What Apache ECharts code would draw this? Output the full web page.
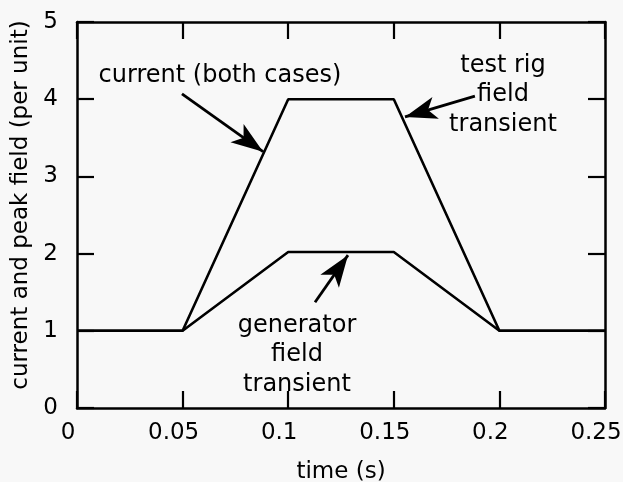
<!DOCTYPE html>
<html>
<head>
<meta charset="utf-8">
<script src="https://cdn.jsdelivr.net/npm/echarts@6/dist/echarts.min.js"></script>
<style>
  html, body { margin: 0; padding: 0; background: #f8f8f8; }
  #chart { width: 623px; height: 482px; }
</style>
</head>
<body>
<div id="chart"></div>
<script>
var times = [0, 0.05, 0.1, 0.15, 0.2, 0.25];
var current = [1, 1, 4, 4, 1, 1];
var generator = [1, 1, 2.02, 2.02, 1, 1];
var xTicks = [0, 0.05, 0.1, 0.15, 0.2, 0.25];
var yTicks = [0, 1, 2, 3, 4, 5];

// annotation arrows, [tail, head] in data units
var arrowCurrent = [[0.0497, 4.07], [0.0881, 3.32]];
var arrowTestRig = [[0.1884, 4.04], [0.1553, 3.77]];
var arrowGenerator = [[0.1127, 1.37], [0.1283, 1.98]];

var font = 'DejaVu Sans';
var chart = echarts.init(document.getElementById('chart'), null, { renderer: 'canvas' });

function pairs(xs, ys) {
    return xs.map(function (x, i) { return [x, ys[i]]; });
}

function arrow(a) {
    return [
        { coord: a[0], symbol: 'none' },
        { coord: a[1], symbol: 'arrow' }
    ];
}

var axisLine = { show: true, onZero: false, lineStyle: { color: '#000', width: 2.5 } };
var tick = { show: true, inside: true, length: 17, lineStyle: { color: '#000', width: 2.2 } };

var option = {
    backgroundColor: '#f8f8f8',
    animation: false,
    grid: { left: 77, right: 18, top: 22, bottom: 74, containLabel: false, outerBoundsMode: 'none' },
    xAxis: [
        {
            type: 'value', min: xTicks[0], max: xTicks[xTicks.length - 1], interval: 0.05,
            position: 'bottom',
            name: 'time (s)', nameLocation: 'middle', nameGap: 53,
            nameTextStyle: { fontFamily: font, fontSize: 23, color: '#000' },
            axisLine: axisLine, axisTick: tick, splitLine: { show: false },
            axisLabel: {
                margin: 14, fontFamily: font, fontSize: 23, color: '#000',
                padding: [0, 18, 0, 0],
                formatter: function (v) { return String(+v.toFixed(2)); }
            }
        },
        {
            type: 'value', min: xTicks[0], max: xTicks[xTicks.length - 1], interval: 0.05,
            position: 'top',
            axisLine: axisLine, axisTick: tick, splitLine: { show: false },
            axisLabel: { show: false }
        }
    ],
    yAxis: [
        {
            type: 'value', min: yTicks[0], max: yTicks[yTicks.length - 1], interval: 1,
            position: 'left',
            name: 'current and peak field (per unit)', nameLocation: 'middle', nameGap: 44,
            nameTextStyle: { fontFamily: font, fontSize: 23, color: '#000', padding: [0, 0, 0, 20] },
            axisLine: axisLine, axisTick: tick, splitLine: { show: false },
            axisLabel: { margin: 19, fontFamily: font, fontSize: 23, color: '#000' }
        },
        {
            type: 'value', min: yTicks[0], max: yTicks[yTicks.length - 1], interval: 1,
            position: 'right',
            axisLine: axisLine, axisTick: tick, splitLine: { show: false },
            axisLabel: { show: false }
        }
    ],
    series: [
        {
            name: 'current',
            type: 'line',
            data: pairs(times, current),
            symbol: 'none',
            lineStyle: { color: '#000', width: 2.6 },
            markLine: {
                silent: true,
                symbolSize: [17, 32],
                label: { show: false },
                lineStyle: { color: '#000', width: 2.8, type: 'solid' },
                data: [arrow(arrowCurrent), arrow(arrowTestRig), arrow(arrowGenerator)]
            }
        },
        {
            name: 'generator',
            type: 'line',
            data: pairs(times, generator),
            symbol: 'none',
            lineStyle: { color: '#000', width: 2.6 }
        }
    ],
    graphic: [
        {
            type: 'text', x: 220, y: 76,
            style: { text: 'current (both cases)', font: '24px "DejaVu Sans"', fill: '#000', align: 'center', verticalAlign: 'middle' }
        },
        {
            type: 'text', x: 503, y: 95,
            style: { text: 'test rig\nfield\ntransient', font: '24px "DejaVu Sans"', lineHeight: 29.5, fill: '#000', align: 'center', verticalAlign: 'middle' }
        },
        {
            type: 'text', x: 297, y: 355,
            style: { text: 'generator\nfield\ntransient', font: '24px "DejaVu Sans"', lineHeight: 29.5, fill: '#000', align: 'center', verticalAlign: 'middle' }
        }
    ]
};

chart.setOption(option);

window.addEventListener('resize', function () {
    chart.resize();
});
</script>
</body>
</html>
